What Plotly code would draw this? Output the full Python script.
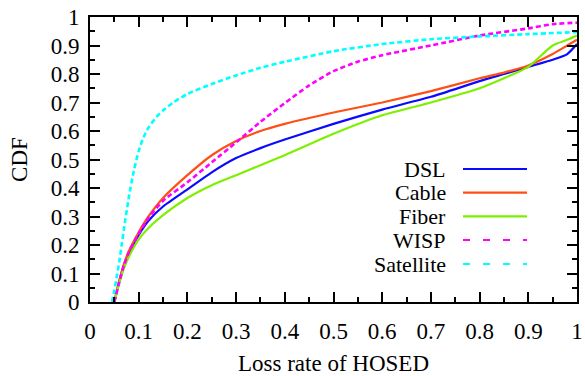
import plotly.graph_objects as go

# Loss-rate CDFs per access technology
loss_grid = [0.05, 0.06, 0.07, 0.08, 0.10, 0.12, 0.15, 0.20, 0.25, 0.30, 0.35,
             0.40, 0.50, 0.60, 0.70, 0.80, 0.85, 0.90, 0.95, 0.98, 1.00]
dsl_cdf = [0.0, 0.07, 0.13, 0.17, 0.235, 0.285, 0.335, 0.395, 0.455, 0.505, 0.54,
           0.57, 0.625, 0.675, 0.72, 0.775, 0.80, 0.825, 0.85, 0.87, 0.905]
cable_cdf = [0.0, 0.075, 0.135, 0.18, 0.245, 0.30, 0.365, 0.445, 0.515, 0.565, 0.60,
             0.625, 0.665, 0.70, 0.74, 0.785, 0.805, 0.83, 0.87, 0.90, 0.92]
fiber_cdf = [0.0, 0.065, 0.12, 0.16, 0.22, 0.26, 0.305, 0.365, 0.41, 0.445, 0.48,
             0.515, 0.59, 0.655, 0.70, 0.75, 0.785, 0.825, 0.90, 0.92, 0.935]

wisp_loss = [0.05, 0.06, 0.07, 0.08, 0.10, 0.12, 0.15, 0.20, 0.25, 0.30, 0.35,
             0.40, 0.45, 0.50, 0.55, 0.60, 0.70, 0.80, 0.90, 0.95, 1.00]
wisp_cdf = [0.0, 0.07, 0.13, 0.175, 0.24, 0.295, 0.355, 0.42, 0.49, 0.56, 0.632,
            0.698, 0.76, 0.81, 0.843, 0.866, 0.90, 0.935, 0.96, 0.975, 0.98]

sat_loss = [0.045, 0.05, 0.055, 0.06, 0.065, 0.07, 0.08, 0.09, 0.10, 0.11, 0.12,
            0.137, 0.15, 0.171, 0.20, 0.25, 0.30, 0.35, 0.40, 0.50, 0.60, 0.70,
            0.80, 0.90, 1.00]
sat_cdf = [0.0, 0.04, 0.09, 0.14, 0.20, 0.26, 0.37, 0.46, 0.53, 0.578, 0.612,
           0.65, 0.672, 0.70, 0.73, 0.765, 0.795, 0.822, 0.843, 0.88, 0.905, 0.922,
           0.932, 0.94, 0.947]

tick_vals = [0, 0.1, 0.2, 0.3, 0.4, 0.5, 0.6, 0.7, 0.8, 0.9, 1]
tick_text = ["0", "0.1", "0.2", "0.3", "0.4", "0.5", "0.6", "0.7", "0.8", "0.9", "1"]

series = [
    ("DSL", loss_grid, dsl_cdf, "#0a0aff", "solid"),
    ("Cable", loss_grid, cable_cdf, "#ff4f14", "solid"),
    ("Fiber", loss_grid, fiber_cdf, "#7df000", "solid"),
    ("WISP", wisp_loss, wisp_cdf, "#ff00ff", "5px,3px"),
    ("Satellite", sat_loss, sat_cdf, "#00ffff", "5px,3px"),
]

FONT = "Liberation Serif, Times New Roman, serif"
FS = 23
W, H = 585, 376
ML, MR, MT, MB = 90, 8, 17, 74
PW, PH = W - ML - MR, H - MT - MB

fig = go.Figure()
for name, xs, ys, color, dash in series:
    fig.add_trace(go.Scatter(
        x=xs, y=ys, mode="lines", name=name,
        line=dict(color=color, width=2.2 if dash == "solid" else 2.6,
                  dash=dash, shape="spline", smoothing=0.6),
        showlegend=False,
    ))

# Legend: right-aligned labels with line samples to their right
row_px = [169, 192.7, 216.3, 240, 264]
text_right_px = 448
sample_px = (463, 527)
legend_dash = {"solid": "solid", "5px,3px": "7px,13px"}
for (name, _, _, color, dash), ry in zip(series, row_px):
    yp = (H - MB - ry) / PH
    fig.add_annotation(
        x=(text_right_px - ML) / PW, y=yp, xref="paper", yref="paper",
        text=name, showarrow=False, xanchor="right", yanchor="middle",
        font=dict(family=FONT, size=22, color="black"),
    )
    fig.add_shape(
        type="line", xref="paper", yref="paper",
        x0=(sample_px[0] - ML) / PW, x1=(sample_px[1] - ML) / PW, y0=yp, y1=yp,
        line=dict(color=color, width=2.2, dash=legend_dash[dash]),
    )

axis_common = dict(
    range=[0, 1], tickmode="array", tickvals=tick_vals, ticktext=tick_text,
    ticks="inside", ticklen=10, tickwidth=1.5, tickcolor="black",
    minor=dict(ticks="inside", ticklen=5, tickwidth=1.5, tickcolor="black", dtick=0.05,
               tick0=0, showgrid=False),
    showline=True, linewidth=2, linecolor="black", mirror="ticks",
    showgrid=False, zeroline=False, automargin=False,
    tickfont=dict(family=FONT, size=FS, color="black"),
)

fig.update_layout(
    width=W, height=H,
    margin=dict(l=ML, r=MR, t=MT, b=MB, autoexpand=False),
    paper_bgcolor="white", plot_bgcolor="white",
    font=dict(family=FONT, size=FS, color="black"),
    xaxis=dict(**axis_common, ticklabelstandoff=7,
               title=dict(text="Loss rate of HOSED", font=dict(family=FONT, size=FS), standoff=13)),
    yaxis=dict(**axis_common, ticklabelstandoff=4,
               title=dict(text="CDF", font=dict(family=FONT, size=FS), standoff=17)),
)

fig.write_html("out.html")
